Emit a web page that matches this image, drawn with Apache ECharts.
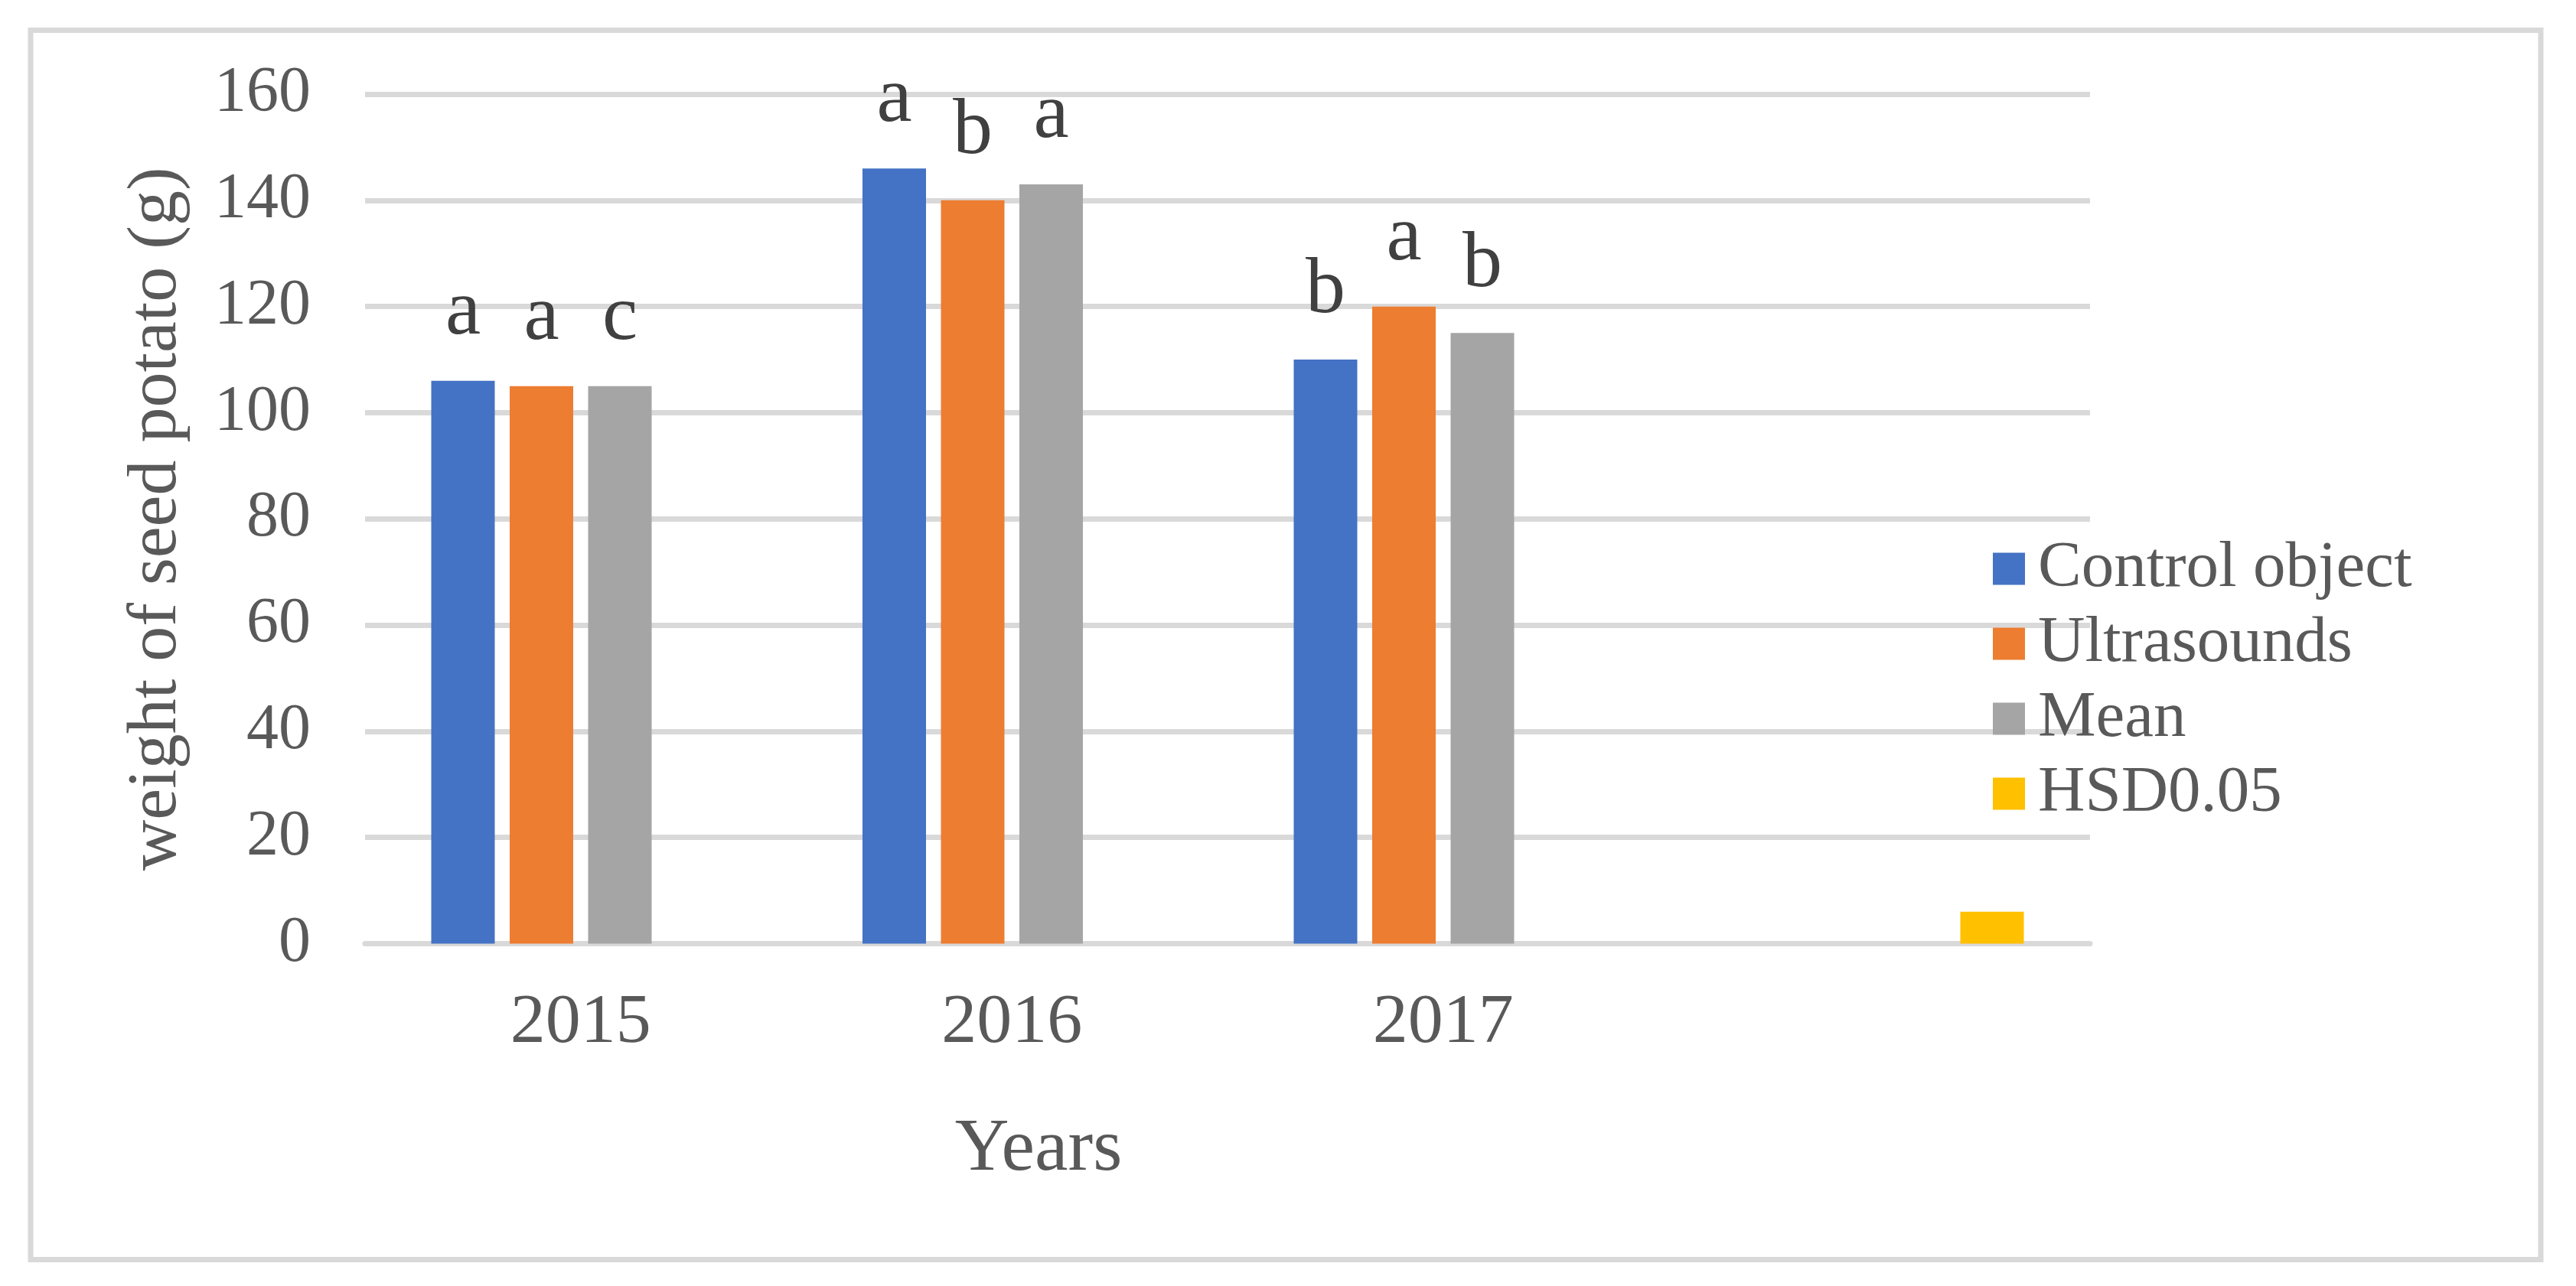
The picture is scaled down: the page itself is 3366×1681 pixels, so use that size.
<!DOCTYPE html>
<html>
<head>
<meta charset="utf-8">
<script src="https://cdn.jsdelivr.net/npm/echarts@6/dist/echarts.min.js"></script>
<style>
html,body{margin:0;padding:0;background:#fff;}
#chart{width:3366px;height:1681px;}
</style>
</head>
<body>
<div id="chart"></div>
<script>
var categories = ['2015', '2016', '2017', ''];
var controlValues = [106, 146, 110, null];
var ultraValues = [105, 140, 120, null];
var meanValues = [105, 143, 115, null];
var hsdValues = [null, null, null, 6];
var controlLetters = ['a', 'a', 'b', ''];
var ultraLetters = ['a', 'b', 'a', ''];
var meanLetters = ['c', 'a', 'b', ''];
var yTicks = [0, 20, 40, 60, 80, 100, 120, 140, 160];

var FONT = '"Liberation Serif", "Times New Roman", serif';
var chart = echarts.init(document.getElementById('chart'), null, {renderer: 'canvas'});

function letterLabel(letters) {
  return {
    show: true,
    position: 'top',
    distance: 37,
    fontFamily: FONT,
    fontSize: 104,
    lineHeight: 104,
    color: '#404040',
    formatter: function (p) { return letters[p.dataIndex] || ''; }
  };
}

var option = {
  backgroundColor: '#ffffff',
  animation: false,
  grid: {left: 477, right: 635, top: 123, bottom: 447.5, containLabel: false},
  legend: {
    orient: 'vertical',
    left: 2599,
    top: 696,
    itemWidth: 42,
    itemHeight: 42,
    itemGap: 13,
    icon: 'rect',
    textStyle: {fontFamily: FONT, fontSize: 85, lineHeight: 85, color: '#595959', padding: [0, 0, 0, 12]},
    data: ['Control object', 'Ultrasounds', 'Mean', 'HSD0.05']
  },
  xAxis: {
    type: 'category',
    data: categories,
    axisLine: {show: true, lineStyle: {color: '#d9d9d9', width: 7}},
    axisTick: {show: false},
    axisLabel: {fontFamily: FONT, fontSize: 92, lineHeight: 92, color: '#595959', margin: 58}
  },
  yAxis: {
    type: 'value',
    min: 0,
    max: 160,
    interval: 20,
    name: 'weight of seed potato (g)',
    nameLocation: 'middle',
    nameGap: 226,
    nameRotate: 90,
    nameTextStyle: {fontFamily: FONT, fontSize: 92, lineHeight: 92, color: '#595959'},
    axisLine: {show: false},
    axisTick: {show: false},
    axisLabel: {
      fontFamily: FONT, fontSize: 84, color: '#595959', margin: 71,
      formatter: function (v) { return yTicks.indexOf(v) >= 0 ? String(v) : ''; }
    },
    splitLine: {show: true, lineStyle: {color: '#d9d9d9', width: 7}}
  },
  series: [
    {name: 'Control object', type: 'bar', data: controlValues, itemStyle: {color: '#4472C4'},
     barGap: '23.5%', barCategoryGap: '30.7%', label: letterLabel(controlLetters)},
    {name: 'Ultrasounds', type: 'bar', data: ultraValues, itemStyle: {color: '#ED7D31'},
     barGap: '23.5%', barCategoryGap: '30.7%', label: letterLabel(ultraLetters)},
    {name: 'Mean', type: 'bar', data: meanValues, itemStyle: {color: '#A5A5A5'},
     barGap: '23.5%', barCategoryGap: '30.7%', label: letterLabel(meanLetters)},
    {name: 'HSD0.05', type: 'bar', data: hsdValues, itemStyle: {color: '#FFC000'},
     barGap: '23.5%', barCategoryGap: '30.7%'}
  ],
  graphic: [
    {type: 'rect', shape: {x: 40, y: 39.5, width: 3280, height: 1607},
     style: {fill: 'none', stroke: '#d9d9d9', lineWidth: 7}, silent: true, z: -1},
    {type: 'text', x: 1357, y: 1503,
     style: {text: 'Years', fontFamily: FONT, fontSize: 98, fill: '#595959', textAlign: 'center', textVerticalAlign: 'middle'}}
  ]
};
chart.setOption(option);
</script>
</body>
</html>
